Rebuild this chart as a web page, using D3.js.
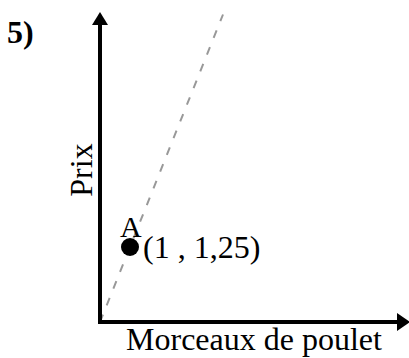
<!DOCTYPE html>
<html><head><meta charset="utf-8">
<script src="https://cdn.jsdelivr.net/npm/d3@7"></script>
<style>html,body{margin:0;padding:0;background:#fff;}svg{display:block;}</style>
</head><body>
<script>
const problemLabel = ["5)"];
const xLabel = ["Morceaux de poulet"];
const yLabel = ["Prix"];
const pointNames = ["A"];
const pointX = [1];
const pointY = [1.25];
const pointText = ["(1 , 1,25)"];
const lineX = [0, 4.1];
const lineY = [0, 5.125];

const W = 409, H = 358;
const svg = d3.select("body").append("svg").attr("width", W).attr("height", H);
const x = d3.scaleLinear().domain([0, 10]).range([100, 400]);
const y = d3.scaleLinear().domain([0, 5]).range([322, 22]);
const font = "'Liberation Serif','Times New Roman',serif";

// dashed line
svg.append("path")
  .datum(lineX.map((v, i) => [v, lineY[i]]))
  .attr("d", d3.line().x(d => x(d[0])).y(d => y(d[1])))
  .attr("stroke", "#999").attr("stroke-width", 2).attr("stroke-dasharray", "8,10")
  .attr("fill", "none");

// axes
const x0 = x(0), y0 = y(0);
svg.append("line").attr("x1", x0).attr("y1", y0).attr("x2", x0).attr("y2", 20)
  .attr("stroke", "#000").attr("stroke-width", 4);
svg.append("line").attr("x1", x0 - 2).attr("y1", y0).attr("x2", 400).attr("y2", y0)
  .attr("stroke", "#000").attr("stroke-width", 4);
svg.append("path").attr("d", `M${x0},12 L${x0 - 8},25 L${x0 + 8},25 Z`).attr("fill", "#000");
svg.append("path").attr("d", `M410,${y0} L397,${y0 - 9} L397,${y0 + 9} Z`).attr("fill", "#000");

// point
svg.selectAll("circle.pt").data(pointX).enter().append("circle")
  .attr("cx", d => x(d)).attr("cy", (d, i) => y(pointY[i])).attr("r", 9).attr("fill", "#000");
svg.selectAll("text.name").data(pointNames).enter().append("text")
  .attr("x", (d, i) => x(pointX[i]) - 10).attr("y", (d, i) => y(pointY[i]) - 10)
  .attr("font-family", font).attr("font-size", 30).text(d => d);
svg.selectAll("text.coord").data(pointText).enter().append("text")
  .attr("x", (d, i) => x(pointX[i]) + 13).attr("y", (d, i) => y(pointY[i]) + 11)
  .attr("font-family", font).attr("font-size", 32).text(d => d);

// labels
svg.append("text").attr("x", 7).attr("y", 43).attr("font-family", font)
  .attr("font-weight", "bold").attr("font-size", 32).text(problemLabel[0]);
svg.append("text").attr("transform", "translate(92,170) rotate(-90)").attr("text-anchor", "middle")
  .attr("font-family", font).attr("font-size", 32).text(yLabel[0]);
svg.append("text").attr("x", 254).attr("y", 350).attr("text-anchor", "middle")
  .attr("font-family", font).attr("font-size", 32).text(xLabel[0]);
</script>
</body></html>
